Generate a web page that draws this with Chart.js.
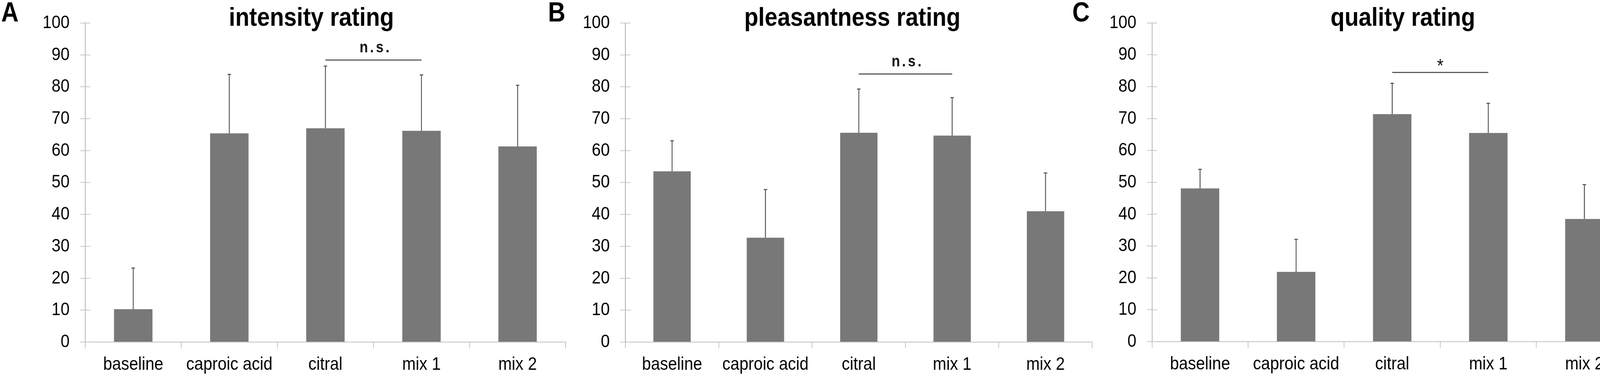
<!DOCTYPE html>
<html>
<head>
<meta charset="utf-8">
<script src="https://cdn.jsdelivr.net/npm/chart.js@4.4.0/dist/chart.umd.min.js"></script>
<style>
  html, body { margin: 0; padding: 0; background: #fff; }
  body { width: 4188px; height: 968px; position: relative; overflow: hidden; }
  canvas { position: absolute; top: 0; }
</style>
</head>
<body>
<canvas id="panelA"></canvas>
<canvas id="panelB"></canvas>
<canvas id="panelC"></canvas>
<script>
// data (mean rating, upper error bar = SD)
const categories = ['baseline', 'caproic acid', 'citral', 'mix 1', 'mix 2'];

const intensityMean = [10.3, 65.4, 67.0, 66.2, 61.3];
const intensitySD = [12.9, 18.5, 19.5, 17.5, 19.2];

const pleasantnessMean = [53.5, 32.7, 65.6, 64.7, 41.0];
const pleasantnessSD = [9.6, 15.1, 13.7, 11.9, 12.0];

const qualityMean = [48.1, 21.9, 71.4, 65.5, 38.5];
const qualitySD = [6.0, 10.2, 9.7, 9.3, 10.8];

const yTicks = [0, 10, 20, 30, 40, 50, 60, 70, 80, 90, 100];

// citral vs mix 1 comparisons
const intensitySig = { from: 'citral', to: 'mix 1', level: 88.4, label: 'n.s.' };
const pleasantnessSig = { from: 'citral', to: 'mix 1', level: 84.0, label: 'n.s.' };
const qualitySig = { from: 'citral', to: 'mix 1', level: 84.5, label: '*' };

const SQ = 0.88; // original figure is squeezed horizontally
const FONT = "'Liberation Sans', Arial, sans-serif";
const H = 968;

const panels = [
  { id: 'panelA', letter: 'A', title: 'intensity rating', mean: intensityMean, sd: intensitySD, sig: intensitySig,
    left: 0, width: 1470, area: { left: 218, right: 1448, top: 38, bottom: 876 }, titleX: 797, letterX: 3 },
  { id: 'panelB', letter: 'B', title: 'pleasantness rating', mean: pleasantnessMean, sd: pleasantnessSD, sig: pleasantnessSig,
    left: 1395, width: 1415, area: { left: 206, right: 1401, top: 44, bottom: 876 }, titleX: 2182, letterX: 1403 },
  { id: 'panelC', letter: 'C', title: 'quality rating', mean: qualityMean, sd: qualitySD, sig: qualitySig,
    left: 2740, width: 1448, area: { left: 209, right: 1439, top: 37, bottom: 875 }, titleX: 3591, letterX: 2745 }
];

function makeDecor(p) {
  return {
    id: 'decor',
    afterDraw(chart) {
      const ctx = chart.ctx;
      const y = chart.scales.y;
      const meta = chart.getDatasetMeta(0);
      ctx.save();

      // inner half of the y tick marks
      ctx.strokeStyle = '#c8c8c8';
      ctx.lineWidth = 2;
      yTicks.forEach(v => {
        const py = y.getPixelForValue(v);
        ctx.beginPath();
        ctx.moveTo(y.right, py);
        ctx.lineTo(y.right + 13 / SQ, py);
        ctx.stroke();
      });

      // error bars (upper only)
      ctx.strokeStyle = '#4a4a4a';
      ctx.lineWidth = 2.5;
      p.mean.forEach((m, i) => {
        const bx = meta.data[i].x;
        const base = y.getPixelForValue(m);
        const top = y.getPixelForValue(m + p.sd[i]);
        ctx.beginPath();
        ctx.moveTo(bx, base);
        ctx.lineTo(bx, top);
        ctx.moveTo(bx - 5, top);
        ctx.lineTo(bx + 5, top);
        ctx.stroke();
      });

      // significance bar
      const s = p.sig;
      const x1 = meta.data[categories.indexOf(s.from)].x;
      const x2 = meta.data[categories.indexOf(s.to)].x;
      const sy = y.getPixelForValue(s.level);
      ctx.strokeStyle = '#5a5a5a';
      ctx.lineWidth = 3;
      ctx.beginPath();
      ctx.moveTo(x1, sy);
      ctx.lineTo(x2, sy);
      ctx.stroke();
      ctx.fillStyle = '#111';
      ctx.textAlign = 'center';
      ctx.textBaseline = 'alphabetic';
      if (s.label === '*') {
        ctx.font = '48px ' + FONT;
        ctx.fillText(s.label, (x1 + x2) / 2, sy - 1);
      } else {
        ctx.font = 'bold 40px ' + FONT;
        ctx.letterSpacing = '6px';
        ctx.fillText(s.label, (x1 + x2) / 2 + 6, sy - 20);
        ctx.letterSpacing = '0px';
      }

      // title and panel letter
      ctx.fillStyle = '#000';
      ctx.font = 'bold 67px ' + FONT;
      ctx.textAlign = 'center';
      ctx.fillText(p.title, (p.titleX - p.left) / SQ, 66);
      ctx.font = 'bold 70px ' + FONT;
      ctx.textAlign = 'left';
      ctx.fillText(p.letter, (p.letterX - p.left) / SQ, 55);
      ctx.restore();
    }
  };
}

panels.forEach(p => {
  const canvas = document.getElementById(p.id);
  canvas.width = Math.round(p.width / SQ);
  canvas.height = H;
  canvas.style.left = p.left + 'px';
  canvas.style.width = p.width + 'px';
  canvas.style.height = H + 'px';

  new Chart(canvas, {
    type: 'bar',
    data: {
      labels: categories,
      datasets: [{
        data: p.mean,
        backgroundColor: '#787878',
        borderWidth: 0,
        barPercentage: 1,
        categoryPercentage: 0.4
      }]
    },
    options: {
      responsive: false,
      maintainAspectRatio: false,
      devicePixelRatio: 1,
      animation: false,
      layout: {
        padding: { left: 0, top: p.area.top, right: (p.width - p.area.right) / SQ, bottom: 0 }
      },
      plugins: { legend: { display: false }, tooltip: { enabled: false }, title: { display: false } },
      scales: {
        x: {
          afterFit: scale => { scale.height = H - p.area.bottom; },
          grid: { display: true, drawOnChartArea: false, drawTicks: true, tickLength: 16, offset: true, color: '#c0c0c0', lineWidth: 2 },
          border: { display: true, color: '#c0c0c0', width: 2 },
          ticks: { color: '#000', padding: 14, font: { family: FONT, size: 47 }, maxRotation: 0, autoSkip: false }
        },
        y: {
          min: 0,
          max: 100,
          afterFit: scale => { scale.width = p.area.left / SQ; },
          afterBuildTicks: scale => { scale.ticks = yTicks.map(v => ({ value: v })); },
          grid: { display: true, drawOnChartArea: false, drawTicks: true, tickLength: 13 / SQ, color: '#c8c8c8', lineWidth: 2 },
          border: { display: true, color: '#a8a8a8', width: 2 },
          ticks: { color: '#000', padding: 27 / SQ, font: { family: FONT, size: 47 } }
        }
      }
    },
    plugins: [makeDecor(p)]
  });
});
</script>
</body>
</html>
